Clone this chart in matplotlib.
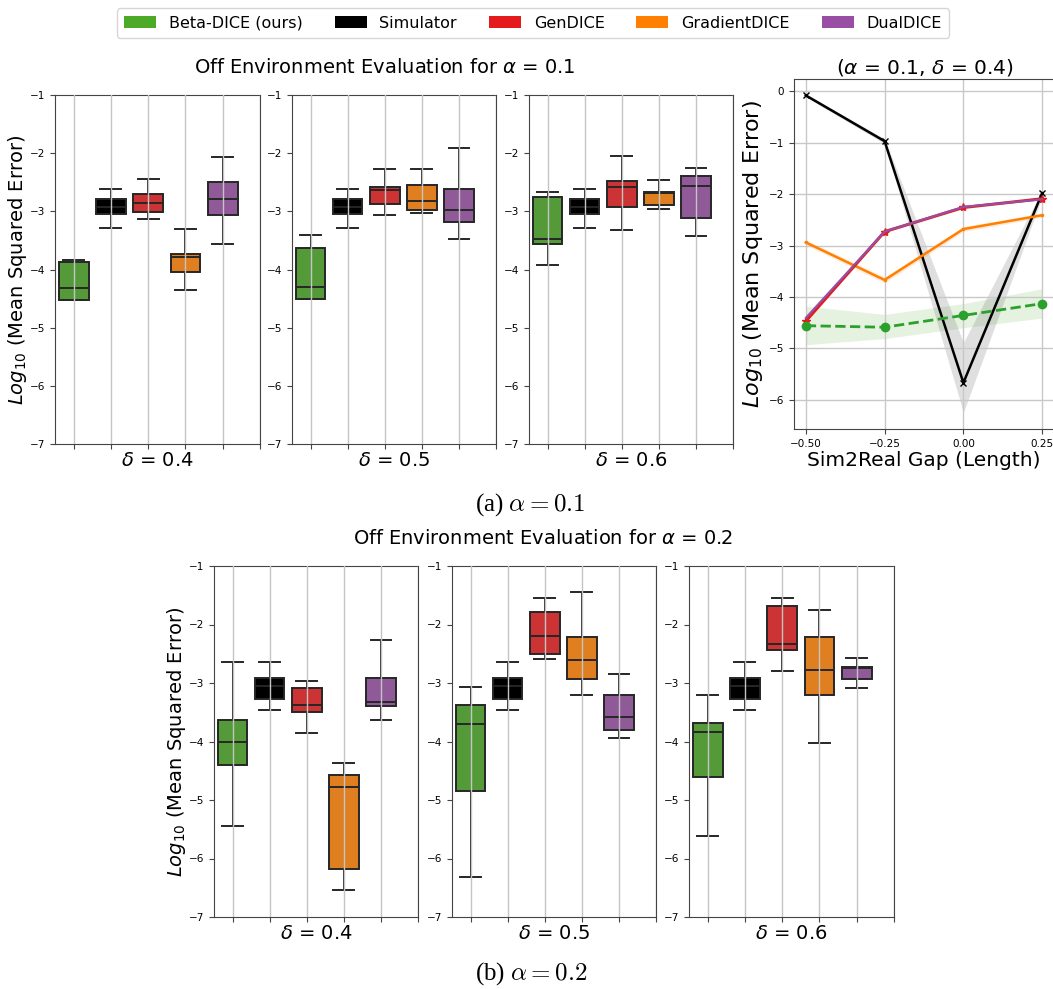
import colorsys
import matplotlib
matplotlib.use("Agg")
import matplotlib.pyplot as plt
from matplotlib.patches import Patch
import matplotlib.colors as mcolors

# ---------------- data ----------------
methods = ["Beta-DICE (ours)", "Simulator", "GenDICE", "GradientDICE", "DualDICE"]
base_colors = ["#4daa29", "#000000", "#e41a1c", "#ff7f00", "#984ea3"]

# box stats per method: [whislo, q1, median, q3, whishi]  (log10 MSE)
a01_d04 = [[-4.52, -4.52, -4.31, -3.87, -3.83],
           [-3.28, -3.05, -2.92, -2.78, -2.62],
           [-3.14, -3.01, -2.85, -2.71, -2.44],
           [-4.35, -4.05, -3.78, -3.74, -3.31],
           [-3.57, -3.06, -2.78, -2.49, -2.07]]
a01_d05 = [[-4.51, -4.51, -4.30, -3.63, -3.40],
           [-3.28, -3.05, -2.92, -2.78, -2.62],
           [-3.07, -2.88, -2.64, -2.58, -2.27],
           [-3.03, -2.98, -2.82, -2.55, -2.27],
           [-3.47, -3.19, -2.98, -2.62, -1.91]]
a01_d06 = [[-3.93, -3.57, -3.47, -2.76, -2.66],
           [-3.28, -3.05, -2.92, -2.78, -2.62],
           [-3.32, -2.92, -2.59, -2.48, -2.05],
           [-2.96, -2.89, -2.69, -2.66, -2.46],
           [-3.42, -3.11, -2.57, -2.40, -2.26]]
a02_d04 = [[-5.44, -4.40, -4.01, -3.63, -2.64],
           [-3.47, -3.28, -3.05, -2.92, -2.64],
           [-3.85, -3.50, -3.38, -3.08, -2.97],
           [-6.53, -6.18, -4.78, -4.57, -4.37],
           [-3.64, -3.40, -3.33, -2.92, -2.27]]
a02_d05 = [[-6.31, -4.85, -3.70, -3.37, -3.06],
           [-3.47, -3.28, -3.05, -2.92, -2.64],
           [-2.59, -2.51, -2.19, -1.79, -1.54],
           [-3.20, -2.94, -2.61, -2.22, -1.45],
           [-3.94, -3.80, -3.58, -3.21, -2.84]]
a02_d06 = [[-5.62, -4.61, -3.84, -3.68, -3.21],
           [-3.47, -3.28, -3.05, -2.92, -2.64],
           [-2.79, -2.44, -2.33, -1.68, -1.54],
           [-4.02, -3.21, -2.78, -2.21, -1.75],
           [-3.09, -2.94, -2.75, -2.73, -2.57]]
delta_labels = ["0.4", "0.5", "0.6"]

# sim2real gap line plot (alpha=0.1, delta=0.4)
gap = [-0.50, -0.25, 0.00, 0.25]
sim_mean = [-0.08, -0.97, -5.67, -1.98]
sim_lo = [-0.11, -1.02, -6.25, -2.05]
sim_hi = [-0.05, -0.92, -4.89, -1.92]
gen_mean = [-4.47, -2.73, -2.26, -2.09]
dual_mean = [-4.41, -2.73, -2.25, -2.10]
grad_mean = [-2.94, -3.67, -2.68, -2.41]
grad_lo = [-2.99, -3.73, -2.73, -2.45]
grad_hi = [-2.89, -3.61, -2.63, -2.37]
beta_mean = [-4.56, -4.59, -4.36, -4.13]
beta_lo = [-4.93, -4.81, -4.60, -4.41]
beta_hi = [-4.18, -4.34, -4.13, -3.84]


def desaturate(c, prop=0.75):
    r, g, b = mcolors.to_rgb(c)
    h, l, s = colorsys.rgb_to_hls(r, g, b)
    return colorsys.hls_to_rgb(h, l, s * prop)


box_colors = [desaturate(c) for c in base_colors]
edge = "#262626"

fig = plt.figure(figsize=(10.53, 9.89), dpi=100)
W, H = 1053, 989


def ax_px(x0, x1, ytop, ybot):
    return fig.add_axes([x0 / W, 1 - ybot / H, (x1 - x0) / W, (ybot - ytop) / H])


def draw_box(ax, stats, dlabel, ylabel=False):
    sdicts = []
    for s in stats:
        sdicts.append(dict(whislo=s[0], q1=s[1], med=s[2], q3=s[3], whishi=s[4], fliers=[]))
    bp = ax.bxp(sdicts, positions=range(len(stats)), widths=0.8, capwidths=0.56,
                patch_artist=True, showfliers=False,
                boxprops=dict(edgecolor=edge, linewidth=1.4),
                whiskerprops=dict(color=edge, linewidth=1.4),
                capprops=dict(color=edge, linewidth=1.4),
                medianprops=dict(color=edge, linewidth=1.4))
    for patch, c in zip(bp["boxes"], box_colors):
        patch.set_facecolor(c)
    ax.set_xlim(-0.5, 5)
    ax.set_xticks(range(6))
    ax.set_xticklabels([])
    ax.set_ylim(-7, -1)
    ax.set_yticks([-7, -6, -5, -4, -3, -2, -1])
    ax.tick_params(axis="y", labelsize=7.5, length=3.5, color="#444444")
    ax.tick_params(axis="x", length=3.5, color="#444444")
    ax.set_axisbelow(False)
    ax.grid(axis="x", color="#c4c4c4", linewidth=1.0, zorder=2.5)
    for sp in ax.spines.values():
        sp.set_color("#444444")
    ax.set_xlabel(r"$\delta$ = " + dlabel, fontsize=14, labelpad=-2)
    if ylabel:
        ax.set_ylabel(r"$Log_{10}$ (Mean Squared Error)", fontsize=14, labelpad=1)


top_stats = [a01_d04, a01_d05, a01_d06]
bot_stats = [a02_d04, a02_d05, a02_d06]
top_x = [(55, 260), (292, 496), (529, 733)]
bot_x = [(214, 418), (452, 656), (689, 894)]

for i, (xs, st) in enumerate(zip(top_x, top_stats)):
    ax = ax_px(xs[0], xs[1], 95, 444)
    draw_box(ax, st, delta_labels[i], ylabel=(i == 0))

for i, (xs, st) in enumerate(zip(bot_x, bot_stats)):
    ax = ax_px(xs[0], xs[1], 566, 917)
    draw_box(ax, st, delta_labels[i], ylabel=(i == 0))

# line plot
axl = ax_px(794, 1054, 79, 429)
axl.fill_between(gap, beta_lo, beta_hi, color="#4daa29", alpha=0.15, linewidth=0)
axl.fill_between(gap, sim_lo, sim_hi, color="gray", alpha=0.25, linewidth=0)
axl.fill_between(gap, grad_lo, grad_hi, color="#ff7f00", alpha=0.15, linewidth=0)
axl.plot(gap, sim_mean, color="black", lw=1.8, marker="x", ms=5)
axl.plot(gap, grad_mean, color="#ff7f00", lw=1.8, marker=".", ms=3)
axl.plot(gap, gen_mean, color="#e41a1c", lw=2.2, marker="*", ms=6)
axl.plot(gap, dual_mean, color="#984ea3", lw=1.6)
axl.plot(gap, beta_mean, color="#2ca02c", lw=2.0, ls="--", marker="o", ms=6)
axl.set_xlim(-0.5375, 0.2875)
axl.set_ylim(-6.57, 0.24)
axl.set_xticks(gap)
axl.set_xticklabels(["\u22120.50", "\u22120.25", "0.00", "0.25"])
axl.set_yticks([0, -1, -2, -3, -4, -5, -6])
axl.tick_params(labelsize=7.5, length=3.5, color="#444444")
axl.grid(True, color="#c8c8c8", linewidth=1.0)
for sp in axl.spines.values():
    sp.set_color("#444444")
axl.set_xlabel("Sim2Real Gap (Length)", fontsize=14.5, labelpad=2)
axl.set_ylabel(r"$Log_{10}$ (Mean Squared Error)", fontsize=16, labelpad=3)

# titles and captions
fig.text(385 / W, 1 - 68 / H, r"Off Environment Evaluation for $\alpha$ = 0.1",
         ha="center", va="center", fontsize=14)
fig.text(925 / W, 1 - 68 / H, r"($\alpha$ = 0.1, $\delta$ = 0.4)",
         ha="center", va="center", fontsize=14.5)
fig.text(543 / W, 1 - 538 / H, r"Off Environment Evaluation for $\alpha$ = 0.2",
         ha="center", va="center", fontsize=14)
fig.text(530 / W, 1 - 505 / H, r"(a) $\alpha = 0.1$", ha="center", va="center",
         fontsize=18, family="Liberation Serif", math_fontfamily="cm")
fig.text(531 / W, 1 - 974 / H, r"(b) $\alpha = 0.2$", ha="center", va="center",
         fontsize=18, family="Liberation Serif", math_fontfamily="cm")

handles = [Patch(facecolor=c, edgecolor="none") for c in base_colors]
fig.legend(handles, methods, loc="center", bbox_to_anchor=(533 / W, 1 - 23 / H),
           ncol=5, fontsize=11.5, frameon=True, columnspacing=2.0, handlelength=2.0,
           borderpad=0.45)

fig.savefig("out.png", dpi=100)
